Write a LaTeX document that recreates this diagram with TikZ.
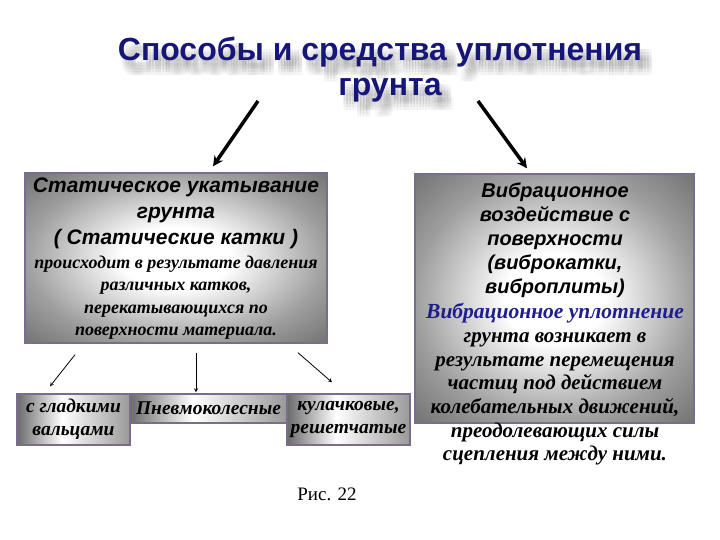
\documentclass[tikz,border=0pt]{standalone}
\usepackage{fontspec}
\setmainfont{Liberation Serif}
\setsansfont{Liberation Sans}
\usepackage{xcolor}
\usetikzlibrary{calc, positioning}

\definecolor{titleblue}{RGB}{22,22,120}
\definecolor{frame}{RGB}{122,108,142}
\definecolor{noteblue}{RGB}{30,30,140}

\pgfdeclareradialshading{vignette}{\pgfpoint{0bp}{0bp}}{color(0bp)=(white); color(9bp)=(white); color(25bp)=(black!38); color(36bp)=(black!56); color(50bp)=(black!56)}
\pgfdeclarehorizontalshading{sidegray}{100bp}{color(0bp)=(black!58); color(25bp)=(black!58); color(45bp)=(white); color(75bp)=(black!40); color(100bp)=(black!40)}

\tikzset{
	bigbox/.style={draw=frame, line width=1.4pt, shade, shading=vignette},
	smallbox/.style={draw=frame, line width=1.4pt, shade, shading=sidegray, align=center, inner sep=0pt},
	titletext/.style={text=titleblue, font=\sffamily\bfseries\fontsize{32}{38}\selectfont},
	shadowtext/.style={text=black!70, opacity=0.045, font=\sffamily\bfseries\fontsize{32}{38}\selectfont},
	head/.style={align=center, inner sep=0pt, font=\sffamily\bfseries\itshape\fontsize{20}{24}\selectfont},
	body/.style={align=center, inner sep=0pt, font=\rmfamily\bfseries\itshape\fontsize{18}{22.5}\selectfont},
	bigarrow/.style={-stealth, line width=3.5pt},
	smallarrow/.style={-stealth, line width=0.8pt}
}

\begin{document}
\begin{tikzpicture}[x=1pt, y=-1pt]
		\useasboundingbox (0,0) rectangle (720,540);

		% title with soft shadow
		\foreach \dx in {3,6,9,12} {
			\foreach \dy in {6,9,12,15} {
				\node[shadowtext] at (380+\dx,52+\dy) {Способы и средства уплотнения};
				\node[shadowtext] at (390+\dx,90+\dy) {грунта};
			}
		}
		\node[titletext] (title1) at (380,52) {Способы и средства уплотнения};
		\node[titletext] (title2) at (390,90) {грунта};

		% static rolling
		\node[bigbox, minimum width=302pt, minimum height=170pt] (statbox) at (176,258) {};
		\node[head, anchor=north, font=\sffamily\bfseries\itshape\fontsize{21}{26}\selectfont] (stathead) at (176,178)
			{Статическое укатывание\\грунта\\( Статические катки )};
		\node[body, below=6pt of stathead] (statbody)
			{происходит в результате давления\\различных катков,\\перекатывающихся по\\поверхности материала.};

		% vibration
		\node[bigbox, minimum width=279pt, minimum height=249pt] (vibbox) at (554.5,298.5) {};
		\node[head, anchor=north] (vibhead) at (555,183)
			{Вибрационное\\воздействие с\\поверхности\\(виброкатки,\\виброплиты)};
		\node[body, below=5pt of vibhead, text=noteblue, font=\rmfamily\bfseries\itshape\fontsize{21.5}{24}\selectfont] (vibnote)
			{Вибрационное уплотнение};
		\node[body, below=9pt of vibnote, font=\rmfamily\bfseries\itshape\fontsize{21}{23.6}\selectfont] (vibbody)
			{грунта возникает в\\результате перемещения\\частиц под действием\\колебательных движений,\\преодолевающих силы\\сцепления между ними.};

		% kinds of rollers
		\node[smallbox, body, font=\rmfamily\bfseries\itshape\fontsize{19.5}{23}\selectfont, minimum width=113pt, minimum height=51pt] (smooth) at (73.5,419.5) {с гладкими\\вальцами};
		\node[smallbox, body, font=\rmfamily\bfseries\itshape\fontsize{19.5}{23}\selectfont, minimum width=157pt, minimum height=29pt] (pneum) at (208.5,408.5) {Пневмоколесные};
		\node[smallbox, body, font=\rmfamily\bfseries\itshape\fontsize{19.5}{23}\selectfont, minimum width=123pt, minimum height=51pt] (cam) at (348.5,419.5) {кулачковые,\\решетчатые};

		\node[font=\rmfamily\fontsize{19}{22}\selectfont] (fig) at (327,494) {Рис. 22};

		% arrows
		\coordinate (s1) at ([xshift=-132pt, yshift=-11pt]title2.center);
		\coordinate (s2) at ([xshift=88pt, yshift=-11pt]title2.center);
		\coordinate (e1) at ([xshift=37pt, yshift=6pt]statbox.north);
		\coordinate (e2) at ([xshift=-27.5pt, yshift=5pt]vibbox.north);
		\draw[bigarrow] (s1) -- (e1);
		\draw[bigarrow] (s2) -- (e2);

		\coordinate (k1) at ([xshift=-101pt, yshift=-11pt]statbox.south);
		\coordinate (k2) at ([xshift=20pt, yshift=-9pt]statbox.south);
		\coordinate (k3) at ([xshift=122pt, yshift=-9pt]statbox.south);
		\draw[smallarrow] (k1) -- ([xshift=-23.5pt, yshift=7pt]smooth.north);
		\draw[smallarrow] (k2) -- ([xshift=-12.5pt, yshift=1pt]pneum.north);
		\draw[smallarrow] (k3) -- ([xshift=-16.5pt, yshift=11pt]cam.north);
	\end{tikzpicture}
\end{document}
